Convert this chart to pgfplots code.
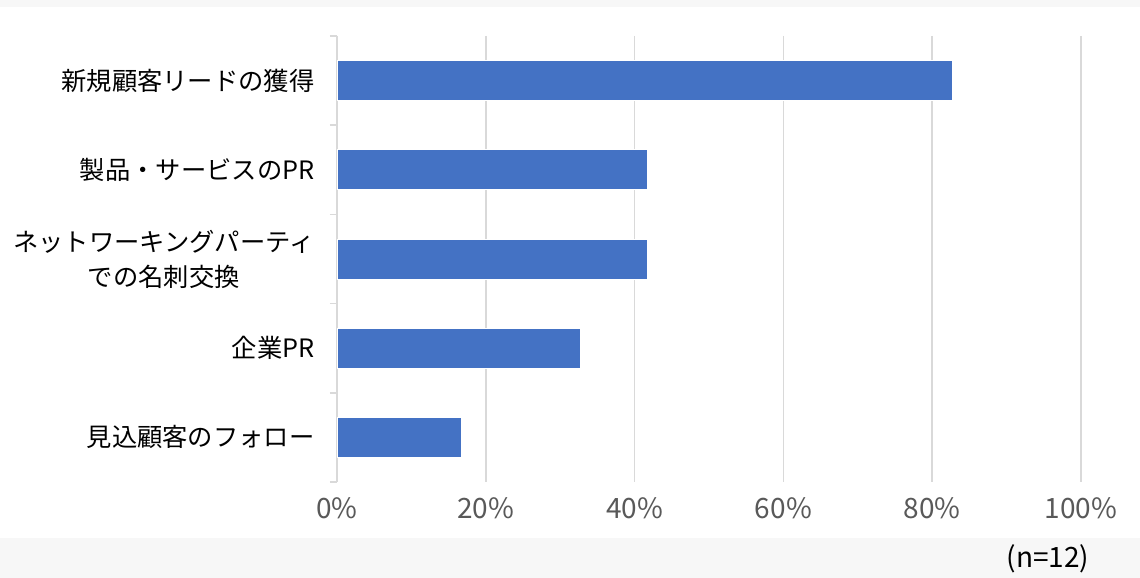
\documentclass[border=0pt]{standalone}
\usepackage{fontspec}
\setmainfont{Noto Sans CJK JP}
\usepackage{pgfplots}
\pgfplotsset{compat=1.18}
\definecolor{barblue}{HTML}{4472C4}
\definecolor{gridgray}{HTML}{D9D9D9}
\definecolor{ticktext}{HTML}{595959}
\definecolor{bggray}{HTML}{F7F7F7}
\begin{document}
\begin{tikzpicture}[x=1pt,y=1pt]
\fill[white] (0,0) rectangle (1140,578);
\fill[bggray] (0,0) rectangle (1140,40);
\fill[bggray] (0,571) rectangle (1140,578);
\begin{axis}[
  at={(337pt,96pt)}, anchor=south west,
  scale only axis, width=744pt, height=446pt,
  xbar, bar width=40pt, bar shift=0pt,
  xmin=0, xmax=100, ymin=0.5, ymax=5.5, y dir=reverse,
  axis line style={draw=none},
  xtick={0,20,...,100},
  xticklabel={\pgfmathprintnumber{\tick}\%},
  /pgf/number format/assume math mode=true,
  xmajorgrids, grid style={gridgray, line width=1.5pt},
  ytick={1,...,5},
  yticklabels={新規顧客リードの獲得, 製品・サービスのPR, {ネットワーキングパーティ\\での名刺交換}, 企業PR, 見込顧客のフォロー},
  major tick length=0pt,
  minor ytick={0.5,1.5,...,5.5},
  minor tick length=7pt,
  tick align=outside,
  ytick pos=left, xtick pos=bottom,
  minor tick style={gridgray, line width=1.5pt},
  yticklabel style={font=\fontsize{25.3}{35}\selectfont, align=center, text=black, xshift=-19pt},
  xticklabel style={font=\fontsize{28}{32}\selectfont, text=ticktext, yshift=-12pt},
]
\addplot[fill=barblue, draw=white, line width=0.75pt] coordinates {(82.7,1) (41.7,2) (41.7,3) (32.7,4) (16.7,5)};
\end{axis}
\node[font=\fontsize{28}{32}\selectfont] at (1048,19) {(n=12)};
\end{tikzpicture}
\end{document}
